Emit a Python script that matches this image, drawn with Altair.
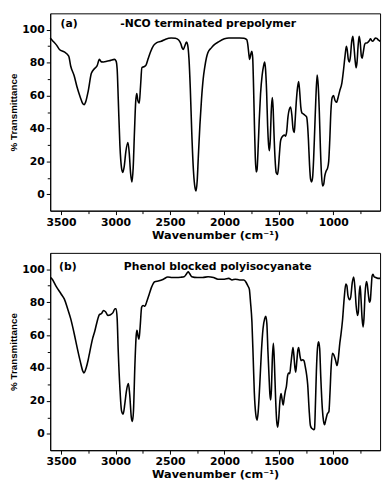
import altair as alt
import pandas as pd

# ---- Panel (a): -NCO terminated prepolymer ----
wn_a = [3600, 3580, 3540, 3515, 3471, 3430, 3412, 3380, 3353, 3324, 3300, 3289, 3275, 3251,
        3222, 3192, 3170, 3148, 3130, 3110, 3080, 3046, 3010, 2995, 2985, 2975, 2960, 2945,
        2934, 2920, 2905, 2886, 2874, 2862, 2849, 2838, 2826, 2815, 2805, 2795, 2782, 2770,
        2758, 2740, 2720, 2700, 2679, 2650, 2621, 2580, 2540, 2489, 2450, 2420, 2400, 2388,
        2377, 2365, 2348, 2338, 2325, 2313, 2300, 2284, 2270, 2260, 2250, 2240, 2225, 2210,
        2195, 2181, 2165, 2152, 2120, 2100, 2050, 2000, 1960, 1900, 1860, 1820, 1795, 1785,
        1775, 1768, 1758, 1748, 1740, 1732, 1724, 1716, 1708, 1700, 1692, 1680, 1668, 1653,
        1640, 1630, 1622, 1612, 1603, 1594, 1586, 1578, 1570, 1560, 1552, 1545, 1535, 1524,
        1513, 1505, 1495, 1485, 1475, 1462, 1448, 1438, 1428, 1416, 1404, 1392, 1380, 1370,
        1358, 1350, 1340, 1328, 1318, 1308, 1298, 1288, 1275, 1260, 1245, 1236, 1228, 1218,
        1208, 1199, 1190, 1180, 1170, 1160, 1148, 1138, 1128, 1118, 1108, 1098, 1088, 1078,
        1066, 1053, 1042, 1032, 1022, 1010, 998, 984, 970, 955, 940, 921, 905, 892, 880, 872,
        862, 852, 842, 832, 820, 810, 800, 790, 782, 772, 762, 752, 742, 735, 725, 712, 701,
        690, 680, 668, 658, 648, 638, 625, 612, 600, 590, 580, 570]
t_a = [95, 93.5, 90.5, 88, 86.5, 84, 78, 72, 65, 59, 55, 54.5, 56, 62.7,
       73.5, 76.5, 78, 82, 80.5, 80.4, 80.8, 81.4, 82, 81, 76, 58, 30, 16,
       13.3, 17, 26, 31.4, 25, 13, 7.5, 16, 38, 56, 61.2, 57, 55.3, 66,
       76.9, 77.5, 78.5, 82.5, 86.5, 90.5, 92.2, 93, 94.3, 95, 94.8, 93.8, 91.5, 89,
       88, 90, 92.5, 91, 82, 64, 38, 14, 4, 2, 8, 22, 42, 58,
       70, 77, 83, 86, 89, 90.5, 92.8, 94.5, 95, 95, 95, 94.8, 94, 91,
       85, 82, 85, 87, 83, 65, 42, 22, 13.5, 15, 25, 45, 61, 72.5,
       78, 80.4, 76, 62, 42, 30, 26.5, 34, 50, 58.8, 52, 38, 22, 13,
       12, 15, 24, 32, 34.3, 35.5, 36, 35.3, 38, 47, 51.6, 53, 48, 40,
       37.6, 45, 56, 65, 68.6, 62, 53, 49.5, 48.8, 48, 47, 42, 33, 18,
       9, 7.5, 10, 22, 40, 58, 72.5, 66, 50, 28, 12, 5, 6, 11,
       14, 15.7, 20, 33, 50, 58.8, 60, 57, 55.9, 59, 63, 67.6, 76, 84, 90, 88,
       82, 80.4, 84, 92, 96, 90, 82, 76.9, 80, 90, 96, 92, 84, 82.7, 86, 91, 92,
       92, 92.5, 93.5, 94.5, 93.5, 93, 94, 95, 94.8, 94, 93.5, 93]

# ---- Panel (b): Phenol blocked polyisocyanate ----
wn_b = [3600, 3588, 3544, 3500, 3471, 3440, 3412, 3380, 3353, 3324, 3300, 3290, 3270, 3251,
        3236, 3210, 3192, 3170, 3148, 3130, 3110, 3090, 3070, 3046, 3025, 3005, 2995, 2985,
        2975, 2960, 2945, 2930, 2915, 2900, 2882, 2870, 2855, 2845, 2835, 2823, 2810, 2803,
        2795, 2785, 2775, 2760, 2747, 2730, 2715, 2690, 2670, 2640, 2600, 2560, 2520, 2480,
        2440, 2400, 2370, 2350, 2333, 2320, 2300, 2250, 2200, 2150, 2100, 2060, 2000, 1960,
        1930, 1900, 1860, 1820, 1800, 1785, 1771, 1760, 1747, 1735, 1725, 1712, 1700, 1690,
        1675, 1660, 1645, 1630, 1620, 1610, 1600, 1590, 1582, 1575, 1568, 1560, 1550, 1540,
        1530, 1520, 1510, 1500, 1490, 1480, 1470, 1460, 1450, 1440, 1430, 1420, 1410, 1400,
        1390, 1380, 1370, 1362, 1352, 1345, 1335, 1325, 1318, 1305, 1295, 1282, 1270, 1255,
        1245, 1235, 1222, 1210, 1200, 1190, 1180, 1172, 1165, 1155, 1145, 1135, 1125, 1115,
        1100, 1090, 1080, 1070, 1055, 1040, 1030, 1020, 1008, 995, 980, 965, 955, 940,
        930, 915, 900, 885, 875, 865, 850, 840, 825, 812, 800, 790, 778, 770, 762,
        753, 745, 735, 726, 718, 708, 695, 688, 678, 668, 660, 652, 643, 635, 625,
        610, 590, 570]
t_b = [95, 94.5, 89.5, 85, 82, 76, 70, 61, 52.5, 44, 38, 37, 40, 45,
       50, 58, 62, 68, 72.5, 73, 75, 74, 72, 72.4, 73.5, 76, 76, 70,
       50, 28, 14, 12, 18, 26, 30.5, 24, 10, 7.5, 14, 40, 60, 63,
       60, 57.5, 64, 77, 78, 77.5, 80, 85, 89, 92.5, 93, 94, 95.3, 95,
       95, 95.2, 95.5, 97, 98.5, 97.5, 95.5, 95, 95, 95.5, 95, 94, 94, 94.5,
       93.5, 94, 93.5, 93.5, 92, 90, 88, 80, 68, 45, 25, 12, 8.3, 13,
       30, 50, 64, 70, 71.5, 67, 50, 35, 24, 20.5, 27, 45, 55, 42,
       22, 8, 4, 10, 20, 24.5, 21, 17.5, 22, 26, 29, 35, 37, 36.5,
       42, 48, 52.5, 48, 40, 37.5, 44, 51, 52.5, 47, 44.5, 45, 44.5, 40,
       36, 30, 15, 5, 3.5, 3, 2.5, 3, 15, 38, 52, 56, 52, 35,
       15, 8, 5.5, 8, 12, 13.5, 25, 40, 49, 48, 45, 41.5, 45, 55,
       60, 69, 82, 91, 90, 84, 81.5, 83, 92, 95.3, 88, 78, 72, 74, 85,
       90, 82, 70, 65, 70, 85, 92.5, 91, 85, 80, 81, 88, 96, 97, 95.5,
       95, 94.5, 94.5]

tags = ["(a)", "(b)"]
names = ["-NCO terminated prepolymer", "Phenol blocked polyisocyanate"]
tag_wn = [3427, 3438]
name_wn = [2149, 2061]
label_t = [103.5, 101.4]

FONT = "DejaVu Sans"
YFONT = "Liberation Sans"

x_ticks = [3500, 3250, 3000, 2750, 2500, 2250, 2000, 1750, 1500, 1250, 1000, 750]
y_ticks = [0, 10, 20, 30, 40, 50, 60, 70, 80, 90, 100]


def panel(wn, t, idx):
    df = pd.DataFrame({"wn": wn, "t": t})
    x = alt.X(
        "wn:Q",
        scale=alt.Scale(domain=[570, 3600], reverse=True, nice=False, zero=False),
        axis=alt.Axis(
            values=x_ticks,
            labelExpr="datum.value % 500 === 0 ? format(datum.value, 'd') : ''",
            tickSize={"condition": {"test": "datum.value % 500 === 0", "value": 4}, "value": 3},
            title="Wavenumber (cm\u207b\u00b9)",
            titleFont=FONT,
            titleFontSize=11.5,
            titlePadding=2,
            labelPadding=2,
        ),
    )
    y = alt.Y(
        "t:Q",
        scale=alt.Scale(domain=[-10, 110], nice=False, zero=False),
        axis=alt.Axis(
            values=y_ticks,
            labelExpr="datum.value % 20 === 0 ? format(datum.value, 'd') : ''",
            tickSize={"condition": {"test": "datum.value % 20 === 0", "value": 4}, "value": 3},
            title="% Transmittance",
            titleFont=YFONT,
            titleFontSize=10,
            titlePadding=3,
            labelPadding=2,
        ),
    )
    line = alt.Chart(df).mark_line(
        color="black", strokeWidth=1.6, interpolate="monotone"
    ).encode(x=x, y=y)
    ann = pd.DataFrame({
        "wn": [tag_wn[idx], name_wn[idx]],
        "t": [label_t[idx], label_t[idx]],
        "s": [tags[idx], names[idx]],
    })
    text = alt.Chart(ann).mark_text(
        font=FONT, fontSize=11, fontWeight="bold", color="black"
    ).encode(x=x, y=y, text="s:N")
    return alt.layer(line, text).properties(width=336, height=201)


chart = alt.vconcat(panel(wn_a, t_a, 0), panel(wn_b, t_b, 1), spacing=11).properties(
    padding=0
).configure_view(
    stroke="black", strokeWidth=1
).configure_axis(
    grid=False,
    domainColor="black",
    tickColor="black",
    labelColor="black",
    titleColor="black",
    labelFont=FONT,
    labelFontSize=11,
    labelFontWeight="bold",
    titleFontWeight="bold",
)

chart.save("out.html", embed_options={"renderer": "svg", "actions": False})
